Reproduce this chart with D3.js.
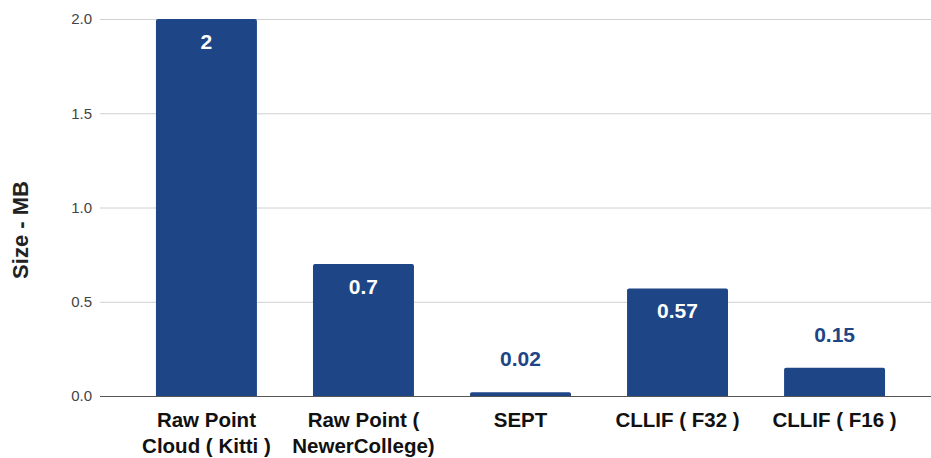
<!DOCTYPE html>
<html>
<head>
<meta charset="UTF-8">
<title></title>
<script src="https://cdn.jsdelivr.net/npm/d3@7"></script>
<style>
  body { margin: 0; background: #fff; }
  text { font-family: "Liberation Sans", Arial, sans-serif; }
</style>
</head>
<body>
<script>
// categories (each split into the lines shown under the bar)
var categories = [
  ["Raw Point", "Cloud ( Kitti )"],
  ["Raw Point (", "NewerCollege)"],
  ["SEPT"],
  ["CLLIF ( F32 )"],
  ["CLLIF ( F16 )"]
];
var sizes = [2, 0.7, 0.02, 0.57, 0.15];
var sizeLabels = ["2", "0.7", "0.02", "0.57", "0.15"];
var yTicks = [0, 0.5, 1.0, 1.5, 2.0];

var W = 931, H = 458;
var barColor = "#1e4586";

var svg = d3.select("body").append("svg")
    .attr("width", W)
    .attr("height", H);

var y = d3.scaleLinear().domain([0, 2]).range([396, 19]);
var x = d3.scaleBand()
    .domain(d3.range(sizes.length))
    .range([128, 913])
    .paddingInner(0.357)
    .paddingOuter(0.178);

// gridlines
svg.append("g").selectAll("line")
    .data(yTicks.slice(1))
    .enter().append("line")
    .attr("x1", 100).attr("x2", W)
    .attr("y1", function(d){ return y(d) + 0.5; })
    .attr("y2", function(d){ return y(d) + 0.5; })
    .style("stroke", "#d0d0d0");

// y tick labels
svg.append("g").selectAll("text")
    .data(yTicks)
    .enter().append("text")
    .attr("x", 92)
    .attr("y", function(d){ return y(d); })
    .attr("dy", "0.35em")
    .attr("text-anchor", "end")
    .style("font-size", "15px")
    .style("fill", "#444")
    .text(function(d){ return d3.format(".1f")(d); });

// y title
svg.append("text")
    .attr("transform", "translate(28,230) rotate(-90)")
    .attr("text-anchor", "middle")
    .style("font-size", "22px")
    .style("font-weight", "bold")
    .style("fill", "#222")
    .text("Size - MB");

// bars with slightly rounded tops
function barPath(d, i) {
  var x0 = x(i), x1 = x(i) + x.bandwidth(), y0 = y(d), yb = y(0), r = Math.min(2, (yb - y0) / 2);
  return "M" + x0 + "," + yb +
         "V" + (y0 + r) + "Q" + x0 + "," + y0 + " " + (x0 + r) + "," + y0 +
         "H" + (x1 - r) + "Q" + x1 + "," + y0 + " " + x1 + "," + (y0 + r) +
         "V" + yb + "Z";
}
svg.append("g").selectAll("path")
    .data(sizes)
    .enter().append("path")
    .attr("d", barPath)
    .style("fill", barColor);

// baseline
svg.append("line")
    .attr("x1", 100).attr("x2", W)
    .attr("y1", y(0) + 0.5).attr("y2", y(0) + 0.5)
    .style("stroke", "#555");

// value labels
svg.append("g").selectAll("text")
    .data(sizes)
    .enter().append("text")
    .attr("x", function(d, i){ return x(i) + x.bandwidth() / 2; })
    .attr("y", function(d){
      var inside = y(0) - y(d) > 40;
      return inside ? y(d) + 29.5 : y(d) - 26;
    })
    .attr("text-anchor", "middle")
    .style("font-size", "21px")
    .style("font-weight", "bold")
    .style("fill", function(d){ return y(0) - y(d) > 40 ? "#fff" : barColor; })
    .text(function(d, i){ return sizeLabels[i]; });

// category labels
var cat = svg.append("g").selectAll("text")
    .data(categories)
    .enter().append("text")
    .attr("x", function(d, i){ return x(i) + x.bandwidth() / 2; })
    .attr("y", 427)
    .attr("text-anchor", "middle")
    .style("font-size", "20.5px")
    .style("font-weight", "bold")
    .style("fill", "#111");
cat.selectAll("tspan")
    .data(function(d){ return d; })
    .enter().append("tspan")
    .attr("x", function(){ return d3.select(this.parentNode).attr("x"); })
    .attr("dy", function(d, j){ return j === 0 ? 0 : 26; })
    .text(function(d){ return d; });
</script>
</body>
</html>
